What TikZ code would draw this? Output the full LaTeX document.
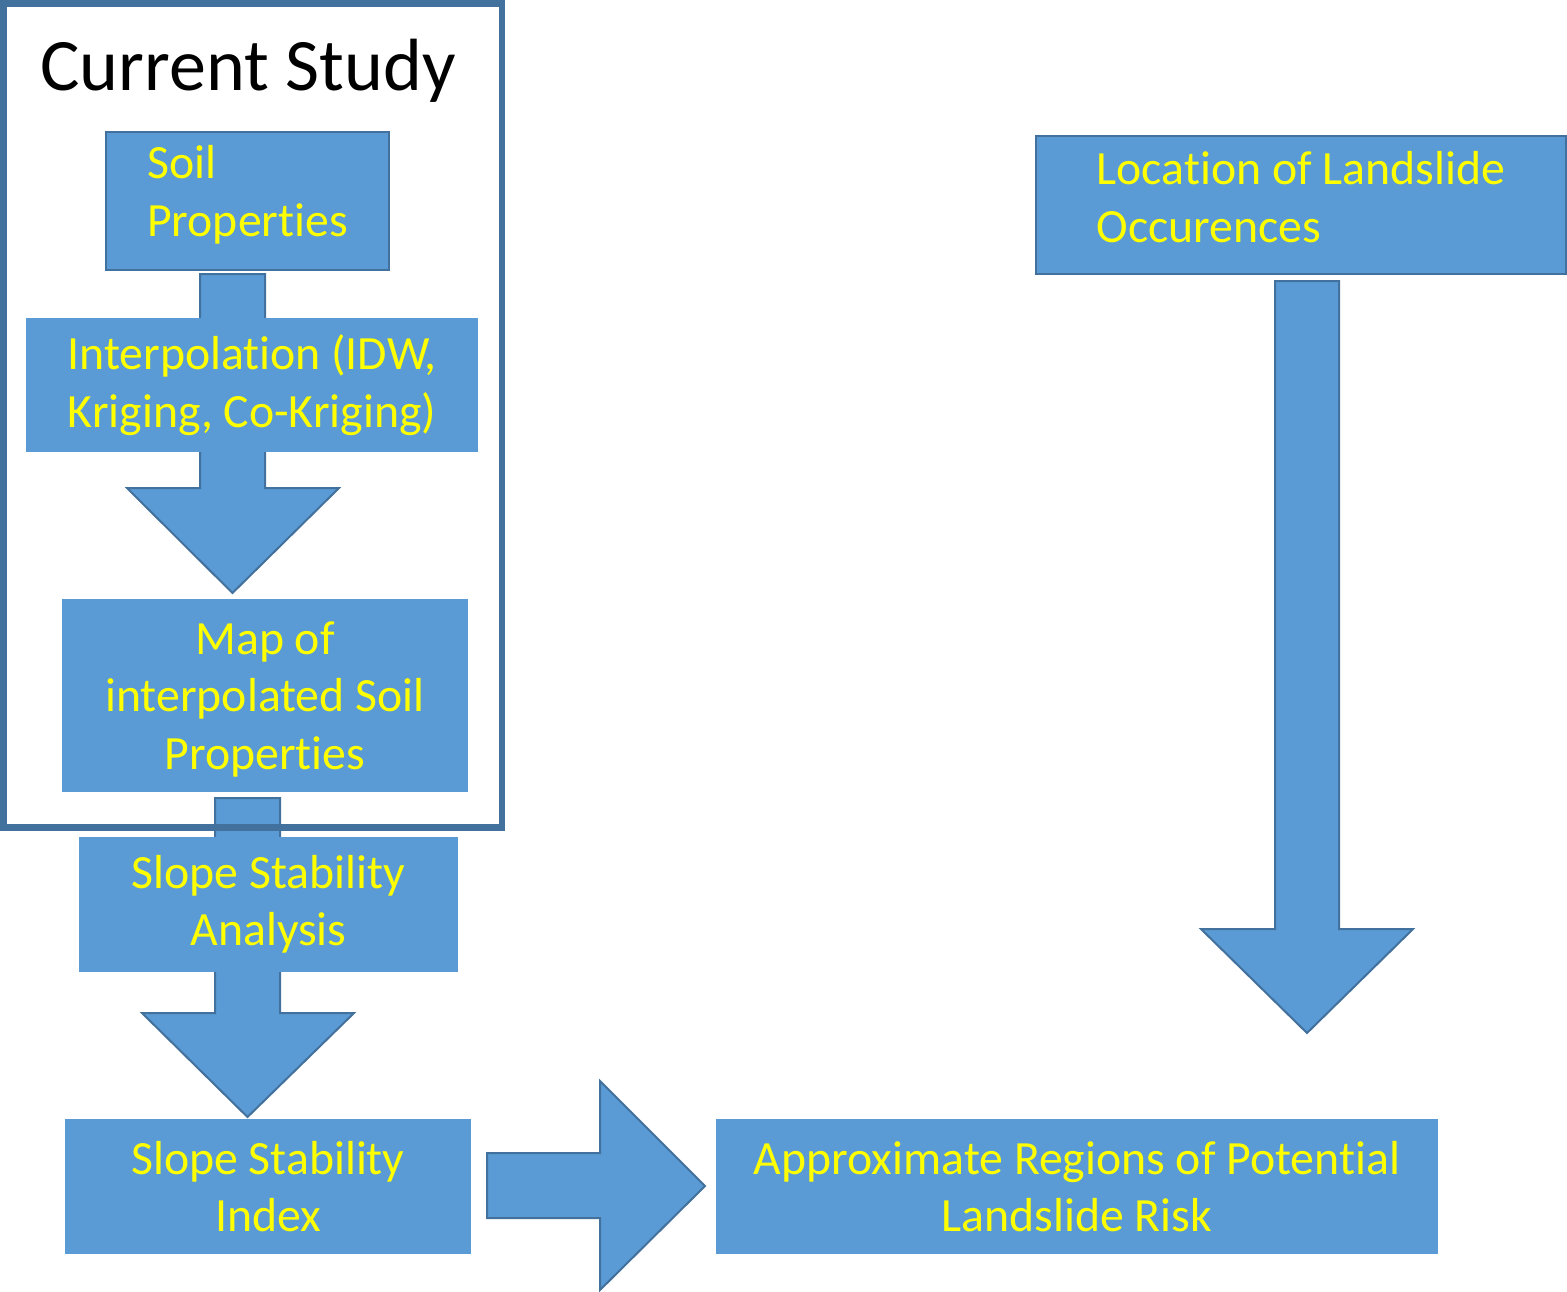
\documentclass[tikz,border=0pt]{standalone}
\usepackage{fontspec}
\setmainfont{Carlito}[Ligatures=NoCommon]
\definecolor{boxfill}{HTML}{5B9BD5}
\definecolor{boxline}{HTML}{41719C}
\definecolor{txtyellow}{HTML}{FFFF00}
\newcommand\bodyfont{\fontsize{35.8pt}{43pt}\selectfont}
\tikzset{
  blk/.style={fill=boxfill, draw=boxline, line width=1.5pt, inner sep=0pt,
    text=txtyellow, align=center, font=\bodyfont, anchor=north west},
  blkn/.style={blk, draw=none},
  barrow/.style={fill=boxfill, draw=boxline, line width=1.5pt, line join=miter},
  frame/.style={draw=boxline, line width=5.2pt}
}
\begin{document}
\begin{tikzpicture}[x=0.75pt,y=-0.75pt]
\useasboundingbox (0,0) rectangle (1567,1292);
\fill[white] (0,0) rectangle (1567,1292);

% arrow 1
\draw[barrow] (200,274) -- (265,274) -- (265,488) -- (339,488) -- (232.5,593) -- (127,488) -- (200,488) -- cycle;

\node[blk, minimum width=283*0.75pt, minimum height=138*0.75pt, align=left, text depth=15pt] (soil) at (105,131) {Soil\\Properties};
\node[blkn, minimum width=452*0.75pt, minimum height=134*0.75pt] (interp) at (25,317) {Interpolation (IDW,\\Kriging, Co-Kriging)};
\node[blkn, minimum width=406*0.75pt, minimum height=193*0.75pt, text depth=0pt] (map) at (61,598) {Map of\\interpolated Soil\\Properties};

% arrow 2
\draw[barrow] (215,798) -- (280,798) -- (280,1013) -- (354,1013) -- (247.5,1117) -- (142,1013) -- (215,1013) -- cycle;

% frame
\draw[frame] (3.5,3.5) rectangle (502,827.5);
\node[font=\fontsize{55.5pt}{60pt}\selectfont, anchor=base, inner sep=0pt] (title) at (248,90) {Current Study};

\node[blkn, minimum width=379*0.75pt, minimum height=135*0.75pt] (ssa) at (78,836) {Slope Stability\\Analysis};
\node[blkn, minimum width=406*0.75pt, minimum height=135*0.75pt] (ssi) at (64,1118) {Slope Stability\\Index};

% arrow 3
\draw[barrow] (487,1153) -- (600,1153) -- (600,1081) -- (705,1186) -- (600,1290) -- (600,1218) -- (487,1218) -- cycle;

\node[blkn, minimum width=722*0.75pt, minimum height=135*0.75pt] (risk) at (715,1118) {Approximate Regions of Potential\\Landslide Risk};

\node[blk, minimum width=530*0.75pt, minimum height=138*0.75pt, align=left, text depth=12pt] (loc) at (1035,135) {Location of Landslide\\Occurences};

% arrow 4
\draw[barrow] (1275,281) -- (1339,281) -- (1339,929) -- (1413,929) -- (1307,1033) -- (1201,929) -- (1275,929) -- cycle;
\end{tikzpicture}
\end{document}
